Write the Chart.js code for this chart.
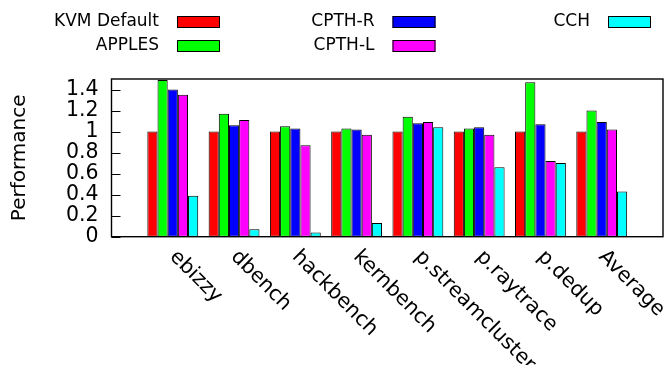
<!DOCTYPE html>
<html>
<head>
<meta charset="utf-8">
<script src="https://cdn.jsdelivr.net/npm/chart.js@4/dist/chart.umd.min.js"></script>
<style>
  html, body { margin: 0; padding: 0; background: #fff; }
  #wrap { width: 666px; height: 365px; position: relative; }
</style>
</head>
<body>
<div id="wrap"><canvas id="c" width="666" height="365"></canvas></div>
<script>
// ---- data ----
const categories = ['ebizzy', 'dbench', 'hackbench', 'kernbench', 'p.streamcluster', 'p.raytrace', 'p.dedup', 'Average'];
const seriesNames = ['KVM Default', 'APPLES', 'CPTH-R', 'CPTH-L', 'CCH'];
const kvmDefault = [1.00, 1.00, 1.00, 1.00, 1.00, 1.00, 1.00, 1.00];
const apples     = [1.49, 1.17, 1.05, 1.03, 1.14, 1.03, 1.47, 1.20];
const cpthR      = [1.40, 1.06, 1.03, 1.02, 1.08, 1.04, 1.07, 1.09];
const cpthL      = [1.35, 1.11, 0.87, 0.97, 1.09, 0.97, 0.72, 1.02];
const cch        = [0.39, 0.07, 0.04, 0.13, 1.04, 0.66, 0.70, 0.43];
const yTicks      = [0, 0.2, 0.4, 0.6, 0.8, 1.0, 1.2, 1.4];
const yTickLabels = ['0', '0.2', '0.4', '0.6', '0.8', '1', '1.2', '1.4'];
const yTitle = 'Performance';

// ---- styles ----
const colors = ['#ff0000', '#00ff00', '#0000ff', '#ff00ff', '#00ffff'];
const FONT = "'DejaVu Sans', 'Liberation Sans', sans-serif";
const seriesValues = [kvmDefault, apples, cpthR, cpthL, cch];

const datasets = seriesNames.map((name, s) => ({
  label: name,
  data: seriesValues[s].map((v, i) => ({ x: i, y: v })),
  backgroundColor: colors[s],
  borderColor: '#000',
  borderWidth: 1,
  borderSkipped: false,
  categoryPercentage: 0.83,
  barPercentage: 1.0
}));

// custom legend, gnuplot style: text right-aligned, swatch to the right, column-major
const legendPlugin = {
  id: 'gpLegend',
  afterDraw(chart) {
    const ctx = chart.ctx;
    const colLeft = [177, 392.5, 608];
    const rowY = [22, 46];
    const rows = 2;
    ctx.save();
    ctx.font = '17px ' + FONT;
    ctx.textAlign = 'right';
    ctx.textBaseline = 'middle';
    seriesNames.forEach((name, s) => {
      const col = Math.floor(s / rows), row = s % rows;
      const sx = colLeft[col], cy = rowY[row];
      ctx.fillStyle = '#000';
      ctx.fillText(name, sx - 18, cy);
      ctx.fillStyle = colors[s];
      ctx.fillRect(sx, cy - 6, 43, 12);
      ctx.strokeStyle = '#000';
      ctx.lineWidth = 1;
      ctx.strokeRect(sx + 0.5, cy - 6 + 0.5, 42, 11);
    });
    ctx.restore();
  }
};

// frame, inner y ticks and rotated x labels
const framePlugin = {
  id: 'gpFrame',
  afterDatasetsDraw(chart) {
    const ctx = chart.ctx;
    const a = chart.chartArea;
    const ys = chart.scales.y, xs = chart.scales.x;
    ctx.save();
    ctx.strokeStyle = '#000';
    ctx.lineWidth = 1;
    ctx.beginPath();
    yTicks.forEach(v => {
      const py = Math.round(ys.getPixelForValue(v)) + 0.5;
      ctx.moveTo(a.left, py);
      ctx.lineTo(a.left + 9, py);
    });
    ctx.stroke();
    ctx.lineWidth = 1.4;
    ctx.strokeRect(a.left, a.top, a.right - a.left, a.bottom - a.top);
    ctx.fillStyle = '#000';
    ctx.font = '20.5px ' + FONT;
    ctx.textAlign = 'left';
    ctx.textBaseline = 'middle';
    categories.forEach((c, i) => {
      const px = xs.getPixelForValue(i);
      ctx.save();
      ctx.translate(px, a.bottom + 17);
      ctx.rotate(Math.PI / 4);
      ctx.fillText(c, 0, 0);
      ctx.restore();
    });
    ctx.restore();
  }
};

new Chart(document.getElementById('c'), {
  type: 'bar',
  data: { datasets },
  options: {
    responsive: false,
    animation: false,
    devicePixelRatio: 1,
    layout: { padding: { top: 79, right: 3, left: 0, bottom: 0 } },
    plugins: { legend: { display: false }, tooltip: { enabled: false }, title: { display: false } },
    scales: {
      x: {
        type: 'linear',
        min: -1,
        max: categories.length,
        offset: false,
        ticks: { display: false, stepSize: 1 },
        grid: { display: false },
        border: { display: false },
        afterFit(scale) { scale.height = 128.3; }
      },
      y: {
        min: 0,
        max: 1.5,
        afterBuildTicks(scale) { scale.ticks = yTicks.map(v => ({ value: v })); },
        ticks: {
          color: '#000',
          autoSkip: false,
          font: { family: FONT, size: 20.5 },
          padding: 13,
          callback: (v) => yTickLabels[yTicks.findIndex(t => Math.abs(t - v) < 1e-9)]
        },
        grid: { display: false, drawTicks: false },
        border: { display: false },
        title: {
          display: true,
          text: yTitle,
          color: '#000',
          font: { family: FONT, size: 20 },
          padding: { top: 8, bottom: 0 }
        },
        afterFit(scale) { scale.width = 111.5; }
      }
    }
  },
  plugins: [legendPlugin, framePlugin]
});
</script>
</body>
</html>
